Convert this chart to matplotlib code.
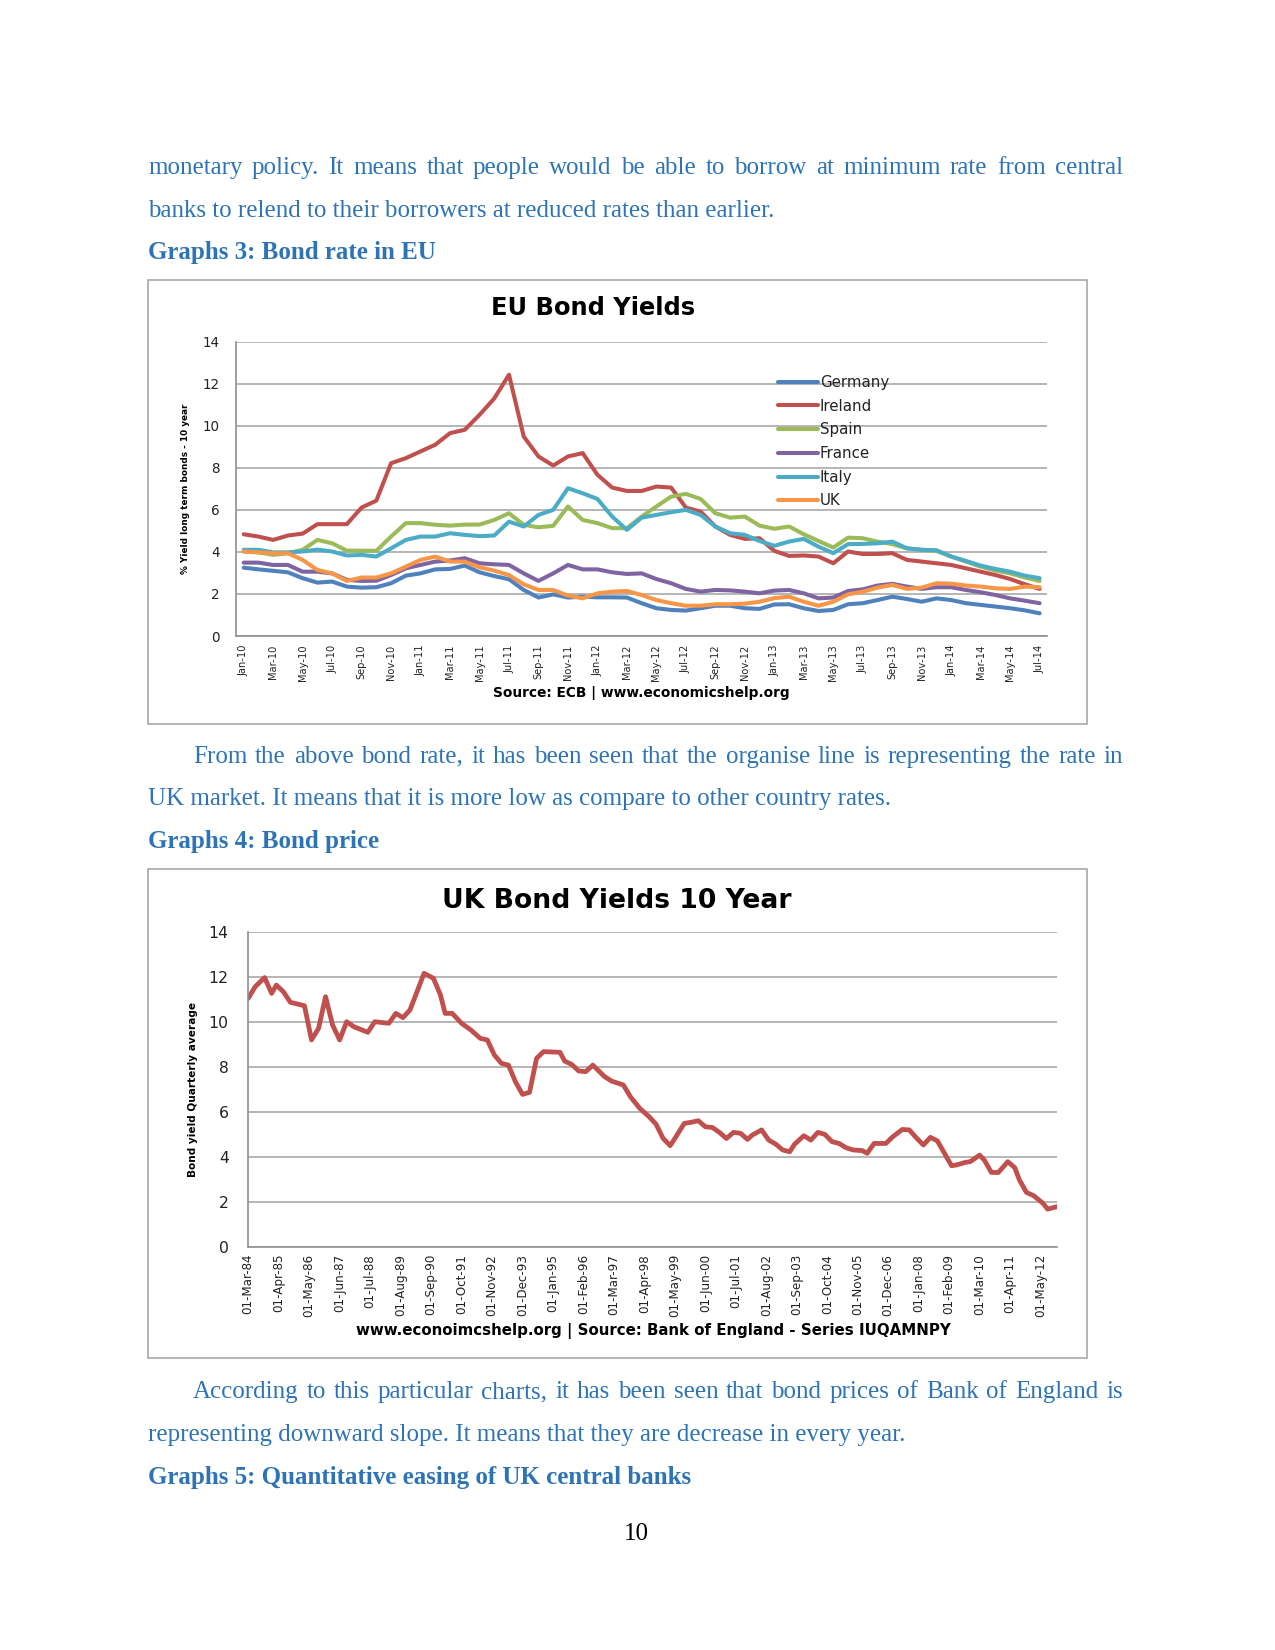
import matplotlib
matplotlib.use("Agg")
import matplotlib.pyplot as plt
import matplotlib.font_manager as fm
from matplotlib.patches import Rectangle
import pandas as pd

W, H = 1275, 1650
DPI = 150
BLUE = "#2e74b5"
GRID = "#a3a3a3"

# ---------------- EU bond yields (monthly, Jan-10 .. Jul-14) ----------------
eu_months = pd.date_range("2010-01-01", "2014-07-01", freq="MS")
germany = [3.25, 3.17, 3.10, 3.03, 2.75, 2.54, 2.59, 2.35, 2.30, 2.32, 2.51, 2.87, 2.98, 3.17, 3.19,
           3.35, 3.03, 2.85, 2.70, 2.19, 1.83, 1.98, 1.83, 1.87, 1.84, 1.84, 1.83, 1.56, 1.32, 1.24,
           1.21, 1.32, 1.44, 1.44, 1.32, 1.29, 1.50, 1.51, 1.32, 1.19, 1.24, 1.51, 1.56, 1.71, 1.87,
           1.76, 1.63, 1.79, 1.71, 1.56, 1.48, 1.40, 1.32, 1.22, 1.08]
ireland = [4.84, 4.73, 4.57, 4.78, 4.87, 5.32, 5.32, 5.32, 6.11, 6.44, 8.22, 8.46, 8.78, 9.10, 9.65,
           9.81, 10.52, 11.30, 12.43, 9.49, 8.54, 8.11, 8.54, 8.70, 7.67, 7.06, 6.90, 6.90, 7.11, 7.06,
           6.11, 5.92, 5.21, 4.81, 4.62, 4.65, 4.05, 3.81, 3.83, 3.78, 3.46, 4.02, 3.90, 3.90, 3.94,
           3.62, 3.54, 3.46, 3.38, 3.22, 3.06, 2.90, 2.71, 2.46, 2.24]
spain = [4.02, 3.98, 3.86, 3.94, 4.10, 4.57, 4.41, 4.06, 4.06, 4.05, 4.73, 5.37, 5.37, 5.29, 5.25,
         5.30, 5.30, 5.52, 5.84, 5.29, 5.17, 5.24, 6.16, 5.52, 5.37, 5.13, 5.13, 5.68, 6.16, 6.63,
         6.76, 6.52, 5.84, 5.63, 5.68, 5.25, 5.10, 5.21, 4.84, 4.52, 4.21, 4.68, 4.65, 4.49, 4.37,
         4.17, 4.10, 4.05, 3.78, 3.54, 3.30, 3.11, 2.98, 2.78, 2.62]
france = [3.49, 3.49, 3.38, 3.38, 3.06, 3.06, 2.98, 2.67, 2.62, 2.63, 2.90, 3.22, 3.38, 3.54, 3.59,
          3.70, 3.46, 3.41, 3.38, 2.98, 2.62, 2.98, 3.38, 3.17, 3.17, 3.03, 2.95, 2.98, 2.71, 2.51,
          2.24, 2.11, 2.19, 2.17, 2.11, 2.03, 2.16, 2.19, 2.03, 1.79, 1.83, 2.14, 2.22, 2.40, 2.48,
          2.35, 2.24, 2.32, 2.32, 2.19, 2.08, 1.95, 1.79, 1.68, 1.56]
italy = [4.10, 4.10, 3.98, 3.98, 4.02, 4.11, 4.02, 3.83, 3.86, 3.78, 4.17, 4.57, 4.73, 4.73, 4.89,
         4.81, 4.75, 4.78, 5.44, 5.21, 5.76, 6.00, 7.03, 6.79, 6.52, 5.68, 5.05, 5.63, 5.76, 5.89,
         6.00, 5.76, 5.21, 4.89, 4.81, 4.52, 4.29, 4.49, 4.62, 4.25, 3.94, 4.37, 4.38, 4.41, 4.49,
         4.17, 4.10, 4.08, 3.78, 3.57, 3.35, 3.19, 3.06, 2.87, 2.75]
uk = [4.02, 3.98, 3.94, 3.94, 3.62, 3.14, 2.98, 2.62, 2.78, 2.78, 2.98, 3.30, 3.62, 3.78, 3.54,
      3.54, 3.27, 3.11, 2.90, 2.46, 2.19, 2.19, 1.92, 1.79, 2.03, 2.11, 2.14, 1.95, 1.71, 1.56,
      1.44, 1.44, 1.51, 1.51, 1.54, 1.63, 1.80, 1.87, 1.63, 1.44, 1.63, 1.98, 2.11, 2.30, 2.43,
      2.24, 2.30, 2.51, 2.49, 2.40, 2.35, 2.27, 2.24, 2.35, 2.32]
eu_names = ["Germany", "Ireland", "Spain", "France", "Italy", "UK"]
eu_colors = ["#4f81bd", "#c0504d", "#9bbb59", "#8064a2", "#4bacc6", "#f79646"]
eu_ticklabels = ["Jan-10", "Mar-10", "May-10", "Jul-10", "Sep-10", "Nov-10", "Jan-11", "Mar-11",
                 "May-11", "Jul-11", "Sep-11", "Nov-11", "Jan-12", "Mar-12", "May-12", "Jul-12",
                 "Sep-12", "Nov-12", "Jan-13", "Mar-13", "May-13", "Jul-13", "Sep-13", "Nov-13",
                 "Jan-14", "Mar-14", "May-14", "Jul-14"]

# ---------------- UK 10 year gilt yield ----------------
uk_dates = ["1984-03", "1984-06", "1984-10", "1985-01", "1985-03", "1985-06", "1985-09", "1986-03",
            "1986-06", "1986-09", "1986-12", "1987-03", "1987-06", "1987-09", "1987-12", "1988-06",
            "1988-09", "1989-03", "1989-06", "1989-09", "1989-12", "1990-03", "1990-06", "1990-10",
            "1991-01", "1991-03", "1991-06", "1991-10", "1992-02", "1992-06", "1992-09", "1992-12",
            "1993-03", "1993-06", "1993-09", "1993-12", "1994-03", "1994-06", "1994-09", "1995-04",
            "1995-06", "1995-09", "1995-12", "1996-03", "1996-06", "1996-11", "1997-02", "1997-07",
            "1997-10", "1998-02", "1998-06", "1998-09", "1998-12", "1999-03", "1999-05", "1999-09",
            "1999-12", "2000-03", "2000-06", "2000-09", "2000-12", "2001-03", "2001-06", "2001-09",
            "2001-12", "2002-02", "2002-06", "2002-09", "2002-12", "2003-03", "2003-06", "2003-08",
            "2003-12", "2004-03", "2004-06", "2004-09", "2004-12", "2005-03", "2005-06", "2005-09",
            "2006-01", "2006-03", "2006-06", "2006-11", "2007-02", "2007-06", "2007-09", "2007-12",
            "2008-03", "2008-06", "2008-09", "2008-12", "2009-03", "2009-05", "2009-09", "2009-11",
            "2010-03", "2010-05", "2010-08", "2010-11", "2011-03", "2011-06", "2011-08", "2011-11",
            "2012-02", "2012-06", "2012-08", "2012-12"]
uk_yield = [11.04, 11.56, 11.96, 11.26, 11.63, 11.33, 10.86, 10.71, 9.19, 9.70, 11.11, 9.85, 9.19,
            10.00, 9.78, 9.53, 10.00, 9.93, 10.37, 10.18, 10.52, 11.33, 12.15, 11.93, 11.19, 10.37,
            10.37, 9.93, 9.63, 9.26, 9.19, 8.52, 8.15, 8.07, 7.33, 6.77, 6.86, 8.37, 8.67, 8.64,
            8.25, 8.10, 7.81, 7.78, 8.07, 7.56, 7.36, 7.19, 6.67, 6.15, 5.78, 5.44, 4.81, 4.49,
            4.81, 5.48, 5.53, 5.60, 5.33, 5.30, 5.08, 4.81, 5.08, 5.04, 4.77, 4.96, 5.19, 4.74,
            4.56, 4.30, 4.22, 4.55, 4.93, 4.74, 5.08, 4.99, 4.67, 4.59, 4.40, 4.30, 4.27, 4.15,
            4.59, 4.59, 4.89, 5.21, 5.19, 4.84, 4.52, 4.86, 4.70, 4.15, 3.60, 3.63, 3.75, 3.78,
            4.07, 3.85, 3.30, 3.30, 3.78, 3.51, 2.96, 2.41, 2.27, 1.93, 1.67, 1.78]
uk_ticklabels = ["01-Mar-84", "01-Apr-85", "01-May-86", "01-Jun-87", "01-Jul-88", "01-Aug-89",
                 "01-Sep-90", "01-Oct-91", "01-Nov-92", "01-Dec-93", "01-Jan-95", "01-Feb-96",
                 "01-Mar-97", "01-Apr-98", "01-May-99", "01-Jun-00", "01-Jul-01", "01-Aug-02",
                 "01-Sep-03", "01-Oct-04", "01-Nov-05", "01-Dec-06", "01-Jan-08", "01-Feb-09",
                 "01-Mar-10", "01-Apr-11", "01-May-12"]

# ---------------- page text ----------------
para1 = ["monetary policy. It means that people would be able to borrow at minimum rate from central",
         "banks to relend to their borrowers at reduced rates than earlier."]
head3 = "Graphs 3: Bond rate in EU"
para2 = ["From the above bond rate, it has been seen that the organise line is representing the rate in",
         "UK market. It means that it is more low as compare to other country rates."]
head4 = "Graphs 4: Bond price"
para3 = ["According to this particular charts, it has been seen that bond prices of Bank of England is",
         "representing downward slope. It means that they are decrease in every year."]
head5 = "Graphs 5: Quantitative easing of UK central banks"
page_no = "10"


def pick_narrow():
    try:
        fm.findfont(fm.FontProperties(family="Liberation Sans Narrow"), fallback_to_default=False)
        return "Liberation Sans Narrow", 1.0
    except ValueError:
        return "DejaVu Sans", 0.74


NARROW, NSCALE = pick_narrow()


def fx(x):
    return x / W


def fy(y):
    return 1 - y / H


fig = plt.figure(figsize=(W / DPI, H / DPI), dpi=DPI)
renderer = fig.canvas.get_renderer()


def text_line(s, x0, ybase, x1=None, bold=False):
    kw = dict(fontsize=12, family="Liberation Serif", color=BLUE, va="baseline",
              weight="bold" if bold else "normal")
    if x1 is None:
        fig.text(fx(x0), fy(ybase), s, **kw)
        return
    # justified line: spread the words over the full column width
    words = s.split(" ")
    arts = [fig.text(0, fy(ybase), w, **kw) for w in words]
    widths = [a.get_window_extent(renderer).width for a in arts]
    gap = (x1 - x0 - sum(widths)) / (len(words) - 1)
    x = x0
    for a, w in zip(arts, widths):
        a.set_x(fx(x))
        x += w + gap


LEFT, RIGHT, INDENT = 148, 1123, 193
text_line(para1[0], LEFT, 174, RIGHT)
text_line(para1[1], LEFT, 217)
text_line(head3, LEFT, 259, bold=True)
text_line(para2[0], INDENT, 763, RIGHT)
text_line(para2[1], LEFT, 805)
text_line(head4, LEFT, 848, bold=True)
text_line(para3[0], INDENT, 1398, RIGHT)
text_line(para3[1], LEFT, 1441)
text_line(head5, LEFT, 1484, bold=True)
fig.text(fx(636), fy(1540), page_no, fontsize=12, family="Liberation Serif", color="black",
         ha="center", va="baseline")

# chart frames
for (x0, y0, x1, y1) in [(148, 280, 1087, 724), (148, 869, 1087, 1358)]:
    fig.add_artist(Rectangle((fx(x0), fy(y1)), (x1 - x0) / W, (y1 - y0) / H,
                             transform=fig.transFigure, fill=False, ec="#a8a8a8", lw=0.8))


def style_axes(ax, ysize):
    ax.set_ylim(0, 14)
    ax.set_yticks(range(0, 15, 2))
    ax.grid(axis="y", color=GRID, lw=0.75)
    ax.set_axisbelow(True)
    for s in ["top", "right"]:
        ax.spines[s].set_visible(False)
    for s in ["left", "bottom"]:
        ax.spines[s].set_color("#8f8f8f")
        ax.spines[s].set_linewidth(0.8)
    ax.tick_params(length=0)
    ax.tick_params(axis="y", labelsize=ysize, pad=8, labelcolor="#222222")
    for lab in ax.get_yticklabels():
        lab.set_family("DejaVu Sans")


# ---------------- EU chart ----------------
ax1 = fig.add_axes([fx(236.3), fy(636), 810.7 / W, 294.3 / H])
x_eu = range(len(eu_months))
for vals, name, col in zip([germany, ireland, spain, france, italy, uk], eu_names, eu_colors):
    ax1.plot(x_eu, vals, color=col, lw=1.95, label=name, solid_joinstyle="round",
             solid_capstyle="round")
ax1.set_xlim(-0.5, len(eu_months) - 0.5)
style_axes(ax1, 6.5)
month_labels = list(eu_months.strftime("%b-%y"))
ax1.set_xticks([month_labels.index(l) for l in eu_ticklabels])
ax1.set_xticklabels(eu_ticklabels, rotation=90, fontsize=6.4 * NSCALE, family=NARROW,
                    color="#222222")
ax1.tick_params(axis="x", pad=4)
leg = ax1.legend(loc="upper left", bbox_to_anchor=(0.668, 0.887), frameon=False,
                 prop=dict(family="DejaVu Sans", size=7.2), handlelength=2.7, handletextpad=0.1,
                 labelspacing=0.58, borderpad=0, borderaxespad=0)
for t in leg.get_texts():
    t.set_color("#222222")
fig.text(fx(593), fy(308), "EU Bond Yields", fontsize=11.6, weight="bold", family="DejaVu Sans",
         ha="center", va="center")
fig.text(fx(186), fy(489), "% Yield long term bonds - 10 year", fontsize=5.8 * NSCALE,
         weight="bold", family=NARROW, rotation=90, ha="center", va="center")
fig.text(fx(641.5), fy(693), "Source: ECB | www.economicshelp.org", fontsize=6.6, weight="bold",
         family="DejaVu Sans", ha="center", va="center")

# ---------------- UK chart ----------------
ax2 = fig.add_axes([fx(247.5), fy(1246.7), (1057 - 247.5) / W, 315 / H])
d = pd.to_datetime(uk_dates, format="%Y-%m")
x_uk = (d.year - d[0].year) * 12 + (d.month - d[0].month)
ax2.plot(x_uk, uk_yield, color="#c0504d", lw=2.3, solid_joinstyle="round", solid_capstyle="round")
ax2.set_xlim(-0.3, x_uk[-1])
style_axes(ax2, 7.5)
td = pd.to_datetime(uk_ticklabels, format="%d-%b-%y")
ax2.set_xticks((td.year - d[0].year) * 12 + (td.month - d[0].month))
ax2.set_xticklabels(uk_ticklabels, rotation=90, fontsize=7.7 * NSCALE, family=NARROW,
                    color="#222222")
ax2.tick_params(axis="x", pad=3.5)
ax2.tick_params(axis="y", pad=9)
fig.text(fx(616.5), fy(901.5), "UK Bond Yields 10 Year", fontsize=12.8, weight="bold",
         family="DejaVu Sans", ha="center", va="center")
fig.text(fx(192.5), fy(1089), "Bond yield Quarterly average", fontsize=6.8 * NSCALE,
         weight="bold", family=NARROW, rotation=90, ha="center", va="center")
fig.text(fx(653), fy(1331), "www.econoimcshelp.org | Source: Bank of England - Series IUQAMNPY",
         fontsize=7.2, weight="bold", family="DejaVu Sans", ha="center", va="center")

fig.savefig("out.png", dpi=DPI, facecolor="white")
